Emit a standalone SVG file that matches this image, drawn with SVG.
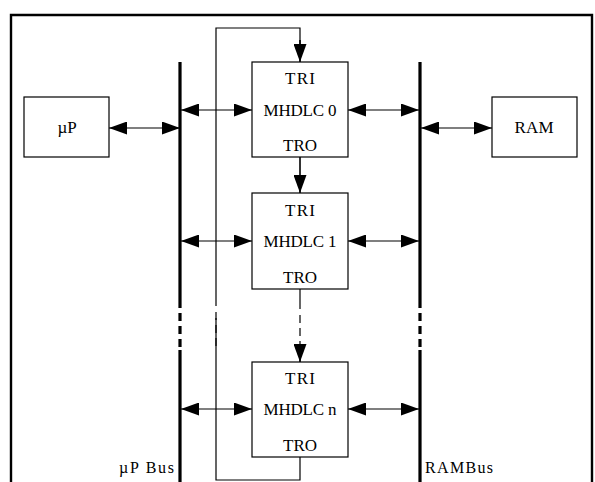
<svg xmlns="http://www.w3.org/2000/svg" width="595" height="482" viewBox="0 0 595 482">
<defs>
<marker id="ah" markerUnits="userSpaceOnUse" markerWidth="18" markerHeight="13" refX="18" refY="6.5" orient="auto-start-reverse">
<path d="M0,0 L18,6.5 L0,13 z" fill="#000"/>
</marker>
<style>
.box{fill:#fff;stroke:#000;stroke-width:1.2}
.t{font-family:"Liberation Serif","Times New Roman",serif;font-size:17px;fill:#000;text-anchor:middle}
.lbl{font-family:"Liberation Serif","Times New Roman",serif;font-size:16px;fill:#000}
.bus{stroke:#000;stroke-width:3.2;fill:none}
.busd{stroke:#000;stroke-width:3.2;fill:none;stroke-dasharray:8 5}
.ln{stroke:#000;stroke-width:1.2;fill:none}
.lnd{stroke:#000;stroke-width:1.2;fill:none;stroke-dasharray:8 5}
.dbl{stroke:#000;stroke-width:1.2;fill:none;marker-start:url(#ah);marker-end:url(#ah)}
.one{stroke:#000;stroke-width:1.6;fill:none;marker-end:url(#ah)}
</style>
</defs>
<rect width="595" height="482" fill="#fff"/>
<path d="M11,490 V15 H592 V490" fill="none" stroke="#000" stroke-width="2.4"/>

<g id="buses">
<path class="bus" d="M180,62 V308 M180,350 V482"/>
<path class="busd" d="M180,313 V347"/>
<path class="bus" d="M420,62 V308 M420,350 V482"/>
<path class="busd" d="M420,313 V347"/>
<text class="lbl" x="174" y="473" text-anchor="end" textLength="55" lengthAdjust="spacing">µP Bus</text>
<text class="lbl" x="425" y="473" textLength="68" lengthAdjust="spacing">RAMBus</text>
</g>

<g id="connectors">
<path class="ln" d="M300,457 V480 H216 V318"/>
<path class="lnd" d="M216,312 V350"/>
<path class="ln" d="M216,306 V28 H300 V44"/>
<path class="one" d="M300,40 V62"/>
<path class="dbl" d="M109,128 H180"/>
<path class="dbl" d="M421,128 H492"/>
<path class="dbl" d="M181,110 H252"/>
<path class="dbl" d="M348,110 H419"/>
<path class="dbl" d="M181,241 H252"/>
<path class="dbl" d="M348,241 H419"/>
<path class="dbl" d="M181,409 H252"/>
<path class="dbl" d="M348,409 H419"/>
<path class="one" d="M300,157 V193"/>
<path class="ln" d="M300,289 V309"/>
<path class="lnd" d="M300,315 V345"/>
<path class="one" d="M300,345 V362"/>
</g>

<g id="up">
<rect class="box" x="24" y="97" width="85" height="60"/>
<text class="t" x="67" y="133">µP</text>
</g>
<g id="ram">
<rect class="box" x="492" y="97" width="85" height="60"/>
<text class="t" x="534" y="133" textLength="39" lengthAdjust="spacing">RAM</text>
</g>

<g id="mhdlc0">
<rect class="box" x="252" y="62" width="96" height="95"/>
<text class="t" x="300" y="84" textLength="30" lengthAdjust="spacing">TRI</text>
<text class="t" x="300" y="116" textLength="73" lengthAdjust="spacing">MHDLC 0</text>
<text class="t" x="300" y="151">TRO</text>
</g>
<g id="mhdlc1">
<rect class="box" x="252" y="193" width="96" height="96"/>
<text class="t" x="300" y="216" textLength="30" lengthAdjust="spacing">TRI</text>
<text class="t" x="300" y="247" textLength="73" lengthAdjust="spacing">MHDLC 1</text>
<text class="t" x="300" y="283">TRO</text>
</g>
<g id="mhdlcn">
<rect class="box" x="252" y="362" width="96" height="95"/>
<text class="t" x="300" y="384" textLength="30" lengthAdjust="spacing">TRI</text>
<text class="t" x="300" y="415" textLength="73" lengthAdjust="spacing">MHDLC n</text>
<text class="t" x="300" y="451">TRO</text>
</g>
</svg>
